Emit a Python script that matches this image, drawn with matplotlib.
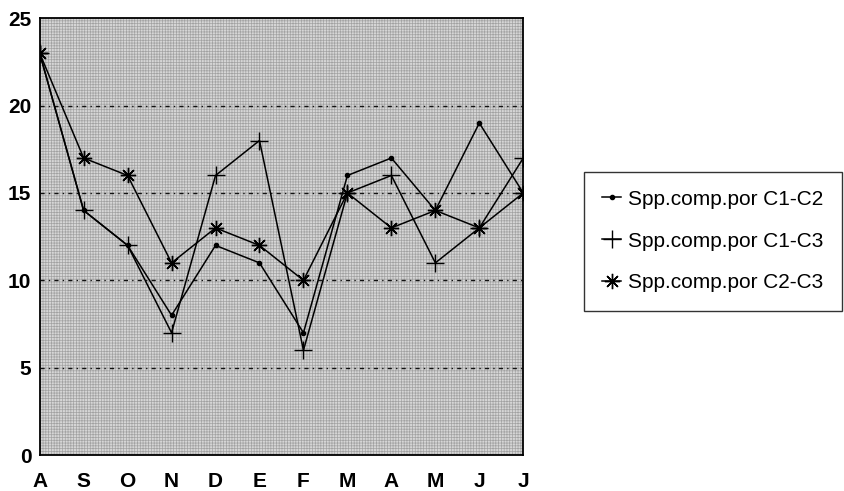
import matplotlib
matplotlib.use('Agg')
import matplotlib.pyplot as plt
from matplotlib.patches import Rectangle
import numpy as np

# months Aug..Jul
meses = ['A', 'S', 'O', 'N', 'D', 'E', 'F', 'M', 'A', 'M', 'J', 'J']
c1_c2 = [23, 14, 12, 8, 12, 11, 7, 16, 17, 14, 19, 15]
c1_c3 = [23, 14, 12, 7, 16, 18, 6, 15, 16, 11, 13, 17]
c2_c3 = [23, 17, 16, 11, 13, 12, 10, 15, 13, 14, 13, 15]
etiquetas = ['Spp.comp.por C1-C2', 'Spp.comp.por C1-C3', 'Spp.comp.por C2-C3']

plt.rcParams['font.family'] = ['Liberation Sans', 'DejaVu Sans']
plt.rcParams['hatch.linewidth'] = 0.5

fig = plt.figure(figsize=(8.44, 4.91), dpi=100)
ax = fig.add_axes([0.047, 0.073, 0.573, 0.89])

x = np.arange(len(meses))
ax.set_facecolor('white')
# stippled background
ax.add_patch(Rectangle((0, 0), 1, 1, transform=ax.transAxes, facecolor='#d6d6d6',
                       edgecolor='#a2a2a2', hatch='++++++', lw=0, zorder=0))

# horizontal dash-dot gridlines
for yv in [5, 10, 15, 20]:
    ax.axhline(yv, color='#111111', lw=1.0, ls=(0, (3, 3, 1, 3)), zorder=1)

ax.plot(x, c1_c2, color='black', lw=1.1, marker='o', ms=3, label=etiquetas[0], zorder=3)
ax.plot(x, c1_c3, color='black', lw=1.1, marker='+', ms=13, mew=1.0, label=etiquetas[1], zorder=3)
ax.plot(x, c2_c3, color='black', lw=1.1, marker=(8, 2, 0), ms=11, mew=1.0, label=etiquetas[2], zorder=3)

ax.set_xlim(0, len(meses) - 1)
ax.set_ylim(0, 25)
ax.set_yticks([0, 5, 10, 15, 20, 25])
ax.set_xticks(x)
ax.set_xticklabels(meses)
ax.tick_params(axis='y', length=0, labelsize=15, pad=6)
ax.tick_params(axis='x', length=0, labelsize=15, pad=12)
for lab in ax.get_xticklabels() + ax.get_yticklabels():
    lab.set_fontweight('bold')
for s in ax.spines.values():
    s.set_linewidth(1.3)

leg = fig.legend(loc='center left', bbox_to_anchor=(0.692, 0.509), frameon=True,
                 fancybox=False, edgecolor='black', fontsize=15, handlelength=0.9,
                 handletextpad=0.35, labelspacing=1.1, borderpad=0.87, borderaxespad=0)
leg.get_frame().set_linewidth(1.0)

fig.savefig('out.png', dpi=100)
